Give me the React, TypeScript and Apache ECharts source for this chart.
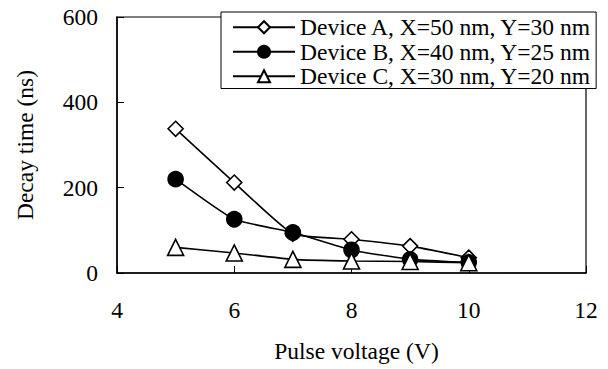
import React, { useEffect, useRef } from "react";
import * as echarts from "echarts";

const voltages = [5, 6, 7, 8, 9, 10];
const deviceA = [338, 212, 92, 79, 63, 36];
const deviceB = [220, 126, 95, 54, 32, 25];
const deviceC = [60, 47, 32, 28, 27, 24];
const seriesNames = [
  "Device A, X=50 nm, Y=30 nm",
  "Device B, X=40 nm, Y=25 nm",
  "Device C, X=30 nm, Y=20 nm",
];

const FONT = "Liberation Serif";
const FS = 23.5;

export default function App() {
  const ref = useRef<HTMLDivElement>(null);
  useEffect(() => {
    if (!ref.current) return;
    const chart = echarts.init(ref.current, null, { renderer: "svg" });
    const mk = (name: string, vals: number[], symbol: string, filled: boolean, size: number) => ({
      name,
      type: "line",
      data: voltages.map((v, i) => [v, vals[i]]),
      symbol,
      symbolSize: size,
      showAllSymbol: true,
      smooth: 0.15,
      lineStyle: { color: "#000", width: 1.6 },
      itemStyle: { color: filled ? "#000" : "#fff", borderColor: "#000", borderWidth: 1.6 },
    });
    chart.setOption({
      animation: false,
      backgroundColor: "#fff",
      textStyle: { fontFamily: FONT },
      grid: {
        left: 117,
        right: 22,
        top: 17,
        bottom: 96,
        show: true,
        borderColor: "#000",
        borderWidth: 1.2,
        backgroundColor: "transparent",
      },
      legend: {
        orient: "vertical",
        left: 221,
        top: 12,
        padding: [3, 4, 0, 11],
        itemGap: 0,
        itemWidth: 62,
        itemHeight: 15,
        backgroundColor: "#fff",
        borderColor: "#000",
        borderWidth: 1,
        textStyle: { fontFamily: FONT, fontSize: FS, lineHeight: 24.5, color: "#000" },
        data: seriesNames,
      },
      xAxis: {
        type: "value",
        min: 4,
        max: 12,
        interval: 2,
        name: "Pulse voltage (V)",
        nameLocation: "middle",
        nameGap: 66,
        nameTextStyle: { fontFamily: FONT, fontSize: FS, color: "#000", padding: [0, 0, 0, 10] },
        axisLine: { show: true, lineStyle: { color: "#000", width: 1.5 } },
        axisTick: { show: true, inside: true, length: 7, lineStyle: { color: "#000", width: 1 } },
        axisLabel: { fontFamily: FONT, fontSize: FS, color: "#000", margin: 25 },
        splitLine: { show: false },
      },
      yAxis: {
        type: "value",
        min: 0,
        max: 600,
        interval: 200,
        name: "Decay time (ns)",
        nameLocation: "middle",
        nameGap: 80,
        nameRotate: 90,
        nameTextStyle: { fontFamily: FONT, fontSize: FS, color: "#000" },
        axisLine: { show: true, lineStyle: { color: "#000", width: 1.5 } },
        axisTick: { show: true, inside: true, length: 7, lineStyle: { color: "#000", width: 1 } },
        axisLabel: { fontFamily: FONT, fontSize: FS, color: "#000", margin: 19 },
        splitLine: { show: false },
      },
      series: [
        mk(seriesNames[0], deviceA, "diamond", false, 15),
        mk(seriesNames[1], deviceB, "circle", true, 15),
        mk(seriesNames[2], deviceC, "triangle", false, 16),
      ],
    });
    return () => chart.dispose();
  }, []);
  return <div ref={ref} style={{ width: 608, height: 369, position: "absolute", left: 0, top: 0 }} />;
}
